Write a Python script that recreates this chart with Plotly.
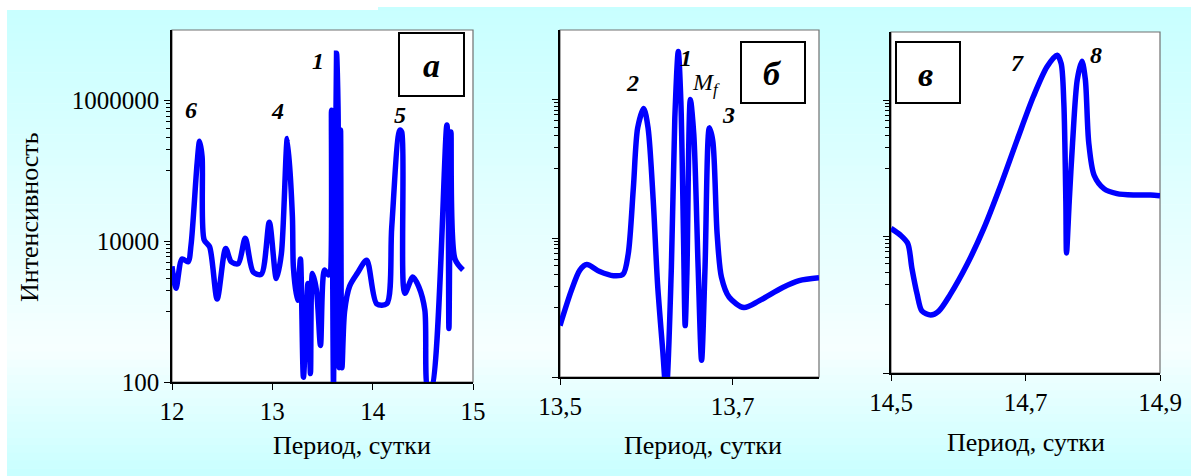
import plotly.graph_objects as go

W, H = 1191, 476

# Panel "а": overview spectrum, period in days vs intensity
period_a = [12.00, 12.04, 12.10, 12.16, 12.19, 12.25, 12.275, 12.30, 12.32, 12.375,
            12.45, 12.535, 12.59, 12.66, 12.73, 12.81, 12.89, 12.97, 13.04, 13.09,
            13.15, 13.20, 13.21, 13.25, 13.28, 13.31, 13.355, 13.38, 13.40, 13.44,
            13.48, 13.52, 13.56, 13.59, 13.61, 13.64, 13.655, 13.665, 13.68, 13.694,
            13.72, 13.77, 13.85, 13.94, 14.04, 14.14, 14.19, 14.27, 14.29, 14.32,
            14.40, 14.46, 14.52, 14.55, 14.585, 14.74, 14.76, 14.78, 14.82, 14.90]
intens_a = [4400, 2140, 5600, 5100, 8900, 126000, 263000, 158000, 10500, 8300,
            1510, 7900, 5100, 4800, 11000, 3630, 3390, 18600, 2950, 6600,
            288000, 22400, 4270, 1450, 5600, 117, 2510, 132, 3470, 2000,
            331, 3890, 3310, 724000, 80, 4680000, 794000, 160, 380000, 160,
            1000, 2290, 3550, 5370, 1290, 1290, 15800, 380000, 355000, 1820,
            3090, 2240, 1050, 80, 80, 447000, 575, 355000, 5600, 3890]

# Panel "б": fine structure near 13.5–13.8 days
period_b = [13.500, 13.513, 13.523, 13.531, 13.546, 13.562, 13.573, 13.579, 13.585, 13.590,
            13.597, 13.602, 13.608, 13.613, 13.619, 13.623, 13.629, 13.633, 13.637, 13.640,
            13.643, 13.645, 13.647, 13.651, 13.655, 13.660, 13.664, 13.668, 13.673, 13.677,
            13.682, 13.687, 13.696, 13.713, 13.731, 13.758, 13.777, 13.800]
intens_b = [550, 1740, 3470, 4170, 3310, 2880, 3020, 5890, 53700, 389000,
            741000, 389000, 34700, 2190, 240, 60, 3800, 537000, 4900000, 933000,
            11500, 550, 3160, 1000000, 309000, 3800, 174, 3800, 389000, 251000,
            11500, 2750, 1410, 1000, 1260, 1950, 2450, 2690]

# Panel "в": fine structure near 14.5–14.9 days
period_c = [14.500, 14.514, 14.525, 14.531, 14.539, 14.546, 14.559, 14.571, 14.588, 14.613,
            14.638, 14.663, 14.688, 14.712, 14.732, 14.747, 14.753, 14.757, 14.760, 14.761,
            14.765, 14.770, 14.777, 14.784, 14.789, 14.794, 14.802, 14.817, 14.836, 14.861,
            14.886, 14.900]
intens_c = [13200, 10500, 7900, 3470, 1410, 810, 710, 810, 1410, 3890,
            13200, 56200, 269000, 1150000, 3090000, 4570000, 3470000, 912000, 32400, 5750,
            32400, 240000, 2000000, 3720000, 2000000, 240000, 79400, 50100, 42700, 40700,
            40700, 39800]

ticks_a = [12, 13, 14, 15]
ticks_b = [13.5, 13.7]
ticks_b_text = ["13,5", "13,7"]
ticks_c = [14.5, 14.7, 14.9]
ticks_c_text = ["14,5", "14,7", "14,9"]
y_major = [100, 10000, 1000000]
y_major_text = ["100", "10000", "1000000"]
y_minor = [k * 1000 for k in range(1, 10)] + [k * 100000 for k in range(1, 10)]

FONT = "Liberation Serif"
BLUE = "#0000FF"


def px(x):
    return x / W


def py(y):
    return 1 - y / H


# plot-area rectangles in pixels: (left, top, right, bottom)
areas = {
    "a": (172, 30, 473, 382),
    "b": (560, 30, 819, 377),
    "c": (891, 32, 1160, 373),
}

fig = go.Figure()

series = [("a", "x", "y", period_a, intens_a),
          ("b", "x2", "y2", period_b, intens_b),
          ("c", "x3", "y3", period_c, intens_c)]
for key, xa, ya, xs, ys in series:
    fig.add_trace(go.Scatter(
        x=xs, y=ys, xaxis=xa, yaxis=ya, mode="lines",
        line=dict(color=BLUE, width=5.5, shape="spline", smoothing=0.8),
        showlegend=False, hoverinfo="skip", cliponaxis=True))

tickfont = dict(family=FONT, size=25, color="black")


def xaxis_cfg(area, rng, vals, text):
    l, t, r, b = area
    return dict(domain=[px(l), px(r)], range=rng, tickvals=vals, ticktext=text,
                automargin=False,
                showgrid=False, zeroline=False, showline=True, linecolor="black",
                linewidth=1.5, ticks="outside", ticklen=6, tickcolor="black",
                tickwidth=1, tickfont=tickfont, fixedrange=True)


def yaxis_cfg(area, anchor, labels):
    l, t, r, b = area
    return dict(domain=[py(b), py(t)], type="log", range=[2, 7], anchor=anchor,
                automargin=False,
                tickvals=y_major, ticktext=y_major_text, showticklabels=labels,
                showgrid=False, zeroline=False, showline=True, linecolor="black",
                linewidth=1.5, ticks="outside", ticklen=6, tickcolor="black",
                tickwidth=1, tickfont=tickfont, fixedrange=True,
                minor=dict(tickmode="array", tickvals=y_minor, ticks="outside",
                           ticklen=4, tickcolor="black", tickwidth=1, showgrid=False))


fig.update_layout(
    width=W, height=H, margin=dict(l=0, r=0, t=0, b=0, pad=0),
    paper_bgcolor="white", plot_bgcolor="white",
    xaxis=xaxis_cfg(areas["a"], [12, 15], ticks_a, [str(v) for v in ticks_a]) | dict(anchor="y"),
    yaxis=yaxis_cfg(areas["a"], "x", True),
    xaxis2=xaxis_cfg(areas["b"], [13.5, 13.8], ticks_b, ticks_b_text) | dict(anchor="y2"),
    yaxis2=yaxis_cfg(areas["b"], "x2", False),
    xaxis3=xaxis_cfg(areas["c"], [14.5, 14.9], ticks_c, ticks_c_text) | dict(anchor="y3"),
    yaxis3=yaxis_cfg(areas["c"], "x3", False),
)

shapes = []
# soft cyan backdrop: cyan at top and bottom, nearly white around y≈350
top_y, mid_y, bot_y = 10, 350, 476
cyan = (200, 255, 255)
pale = (246, 255, 255)
n_bands = 60
edges = [top_y + (bot_y - top_y) * i / n_bands for i in range(n_bands + 1)]
for i in range(n_bands):
    y0, y1 = edges[i], edges[i + 1]
    yc = (y0 + y1) / 2
    if yc <= mid_y:
        f = (yc - top_y) / (mid_y - top_y)
    else:
        f = 1 - (yc - mid_y) / (bot_y - mid_y)
    f = max(0.0, min(1.0, f))
    col = tuple(round(cyan[k] + (pale[k] - cyan[k]) * f) for k in range(3))
    shapes.append(dict(type="rect", xref="paper", yref="paper", layer="below",
                       x0=px(7), x1=1, y0=py(y1 + 0.6), y1=py(y0),
                       fillcolor="rgb(%d,%d,%d)" % col, line=dict(width=0)))
# small strip at the top right that starts a little higher
shapes.append(dict(type="rect", xref="paper", yref="paper", layer="below",
                   x0=px(378), x1=1, y0=py(10.5), y1=py(7),
                   fillcolor="rgb(%d,%d,%d)" % cyan, line=dict(width=0)))

# white plot areas with grey frames
for l, t, r, b in areas.values():
    shapes.append(dict(type="rect", xref="paper", yref="paper", layer="below",
                       x0=px(l), x1=px(r), y0=py(b), y1=py(t),
                       fillcolor="white", line=dict(color="#707070", width=1.2)))

# panel letter boxes
boxes = {"a": (399, 33, 464, 96), "b": (741, 42, 805, 103), "c": (896, 42, 960, 103)}
for l, t, r, b in boxes.values():
    shapes.append(dict(type="rect", xref="paper", yref="paper", layer="above",
                       x0=px(l), x1=px(r), y0=py(b), y1=py(t),
                       fillcolor="white", line=dict(color="black", width=2)))
fig.update_layout(shapes=shapes)

annotations = []


def note(text, x, y, size, angle=0):
    annotations.append(dict(text=text, x=px(x), y=py(y), xref="paper", yref="paper",
                            showarrow=False, xanchor="center", yanchor="middle",
                            textangle=angle, font=dict(family=FONT, size=size, color="black")))


# panel letters
note("<b><i>а</i></b>", 431, 66, 34)
note("<b><i>б</i></b>", 772, 73, 34)
note("<b><i>в</i></b>", 925, 74, 34)

# peak numbers
note("<b><i>6</i></b>", 191, 110, 24)
note("<b><i>4</i></b>", 277, 111, 24)
note("<b><i>1</i></b>", 318, 61, 24)
note("<b><i>5</i></b>", 400, 115, 24)
note("<b><i>2</i></b>", 632, 83, 24)
note("<b><i>1</i></b>", 686, 58, 24)
note("<i>M<sub>f</sub></i>", 706, 84, 24)
note("<b><i>3</i></b>", 728, 115, 24)
note("<b><i>7</i></b>", 1017, 63, 24)
note("<b><i>8</i></b>", 1096, 55, 24)

# axis titles
note("Интенсивность", 30, 217, 26, angle=-90)
note("Период, сутки", 352, 445, 26)
note("Период, сутки", 703, 445, 26)
note("Период, сутки", 1026, 442, 26)

fig.update_layout(annotations=annotations)

fig.write_html("out.html")
